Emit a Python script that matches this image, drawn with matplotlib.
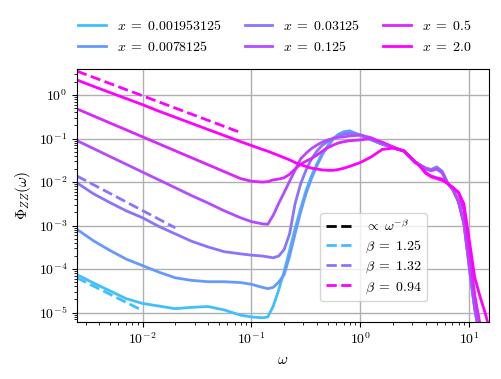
import numpy as np
import matplotlib
matplotlib.use("Agg")
import matplotlib.pyplot as plt
from matplotlib.ticker import FuncFormatter

plt.rcParams['mathtext.fontset'] = 'cm'
plt.rcParams['font.family'] = 'serif'
plt.rcParams['font.serif'] = ['DejaVu Serif']

# values (log10 of omega and of Phi_ZZ)
log_omega = [-2.6, -2.45, -2.3, -2.15, -2.0, -1.85, -1.7, -1.55, -1.4, -1.25,
             -1.1, -1.0, -0.9, -0.85, -0.8, -0.75, -0.7, -0.65, -0.6, -0.55,
             -0.5, -0.45, -0.4, -0.35, -0.3, -0.25, -0.2, -0.15, -0.1, 0.0,
             0.1, 0.2, 0.3, 0.4, 0.5, 0.55, 0.6, 0.65, 0.7, 0.75,
             0.8, 0.85, 0.9, 0.95, 1.0, 1.05, 1.1, 1.15, 1.18]

log_phi_1 = [-4.13, -4.32, -4.50, -4.68, -4.79, -4.85, -4.91, -4.88, -4.86, -4.94,
             -5.06, -5.10, -5.12, -5.10, -4.85, -4.48, -4.05, -3.57, -3.07, -2.62,
             -2.20, -1.86, -1.58, -1.34, -1.17, -1.01, -0.91, -0.85, -0.82, -0.93,
             -1.03, -1.13, -1.21, -1.29, -1.55, -1.61, -1.68, -1.72, -1.66, -1.75,
             -2.02, -2.17, -2.45, -2.95, -4.00, -4.95, -5.6, -6.2, -6.5]
log_phi_2 = [-3.09, -3.35, -3.57, -3.77, -3.92, -4.07, -4.20, -4.26, -4.29, -4.29,
             -4.31, -4.35, -4.42, -4.45, -4.42, -4.30, -4.13, -3.70, -3.19, -2.70,
             -2.27, -1.92, -1.63, -1.37, -1.18, -1.01, -0.90, -0.84, -0.83, -0.92,
             -1.03, -1.13, -1.21, -1.29, -1.54, -1.61, -1.68, -1.71, -1.65, -1.76,
             -2.02, -2.17, -2.44, -2.93, -3.95, -4.92, -5.6, -6.2, -6.5]
log_phi_3 = [-2.02, -2.27, -2.47, -2.66, -2.82, -3.02, -3.19, -3.36, -3.49, -3.60,
             -3.65, -3.68, -3.70, -3.72, -3.74, -3.70, -3.55, -3.19, -2.50, -2.05,
             -1.73, -1.47, -1.29, -1.15, -1.07, -0.99, -0.94, -0.90, -0.88, -0.91,
             -1.02, -1.13, -1.21, -1.29, -1.53, -1.61, -1.68, -1.72, -1.67, -1.76,
             -2.02, -2.18, -2.45, -2.95, -3.95, -4.92, -5.6, -6.2, -6.5]
log_phi_4 = [-1.05, -1.23, -1.41, -1.59, -1.77, -1.95, -2.13, -2.31, -2.48, -2.66,
             -2.82, -2.91, -2.96, -2.97, -2.76, -2.49, -2.24, -1.98, -1.73, -1.47,
             -1.34, -1.23, -1.15, -1.08, -1.03, -1.00, -0.97, -0.96, -0.94, -0.92,
             -0.98, -1.10, -1.20, -1.29, -1.55, -1.62, -1.70, -1.74, -1.70, -1.79,
             -2.03, -2.18, -2.45, -2.95, -3.90, -4.88, -5.6, -6.2, -6.5]
log_phi_5 = [-0.32, -0.48, -0.64, -0.80, -0.96, -1.12, -1.28, -1.44, -1.60, -1.76,
             -1.92, -1.98, -2.00, -1.99, -1.95, -1.93, -1.90, -1.82, -1.70, -1.59,
             -1.52, -1.46, -1.38, -1.29, -1.21, -1.15, -1.10, -1.07, -1.05, -1.03,
             -1.00, -1.08, -1.19, -1.29, -1.53, -1.63, -1.78, -1.86, -1.90, -1.93,
             -2.03, -2.13, -2.25, -2.65, -3.60, -4.60, -5.3, -5.9, -6.2]
log_phi_6 = [0.345, 0.20, 0.06, -0.08, -0.22, -0.37, -0.51, -0.65, -0.79, -0.93,
             -1.07, -1.16, -1.25, -1.29, -1.34, -1.39, -1.44, -1.49, -1.55, -1.60,
             -1.64, -1.68, -1.70, -1.72, -1.73, -1.73, -1.71, -1.68, -1.64, -1.55,
             -1.42, -1.25, -1.22, -1.28, -1.53, -1.65, -1.80, -1.88, -1.92, -1.96,
             -2.03, -2.13, -2.23, -2.50, -3.35, -4.20, -4.65, -5.05, -5.35]

x_labels = ["0.001953125", "0.0078125", "0.03125", "0.125", "0.5", "2.0"]

# power law fits  Phi = amp * (omega/omega0)^-beta
fit_beta = [1.25, 1.32, 0.94]
fit_amp = [6.3e-5, 1.38e-2, 3.55]
fit_end = [0.01, 0.02, 0.08]
fit_color_idx = [0, 2, 5]
omega0 = 0.0025

log_phis = [log_phi_1, log_phi_2, log_phi_3, log_phi_4, log_phi_5, log_phi_6]
colors = plt.cm.cool(np.linspace(0.25, 1.0, 6))

fig = plt.figure(figsize=(5.01, 3.79), dpi=100)
ax = fig.add_axes([0.154, 0.150, 0.822, 0.668])

omega = 10 ** np.array(log_omega)
curve_handles = []
for i in range(6):
    h, = ax.loglog(omega, 10 ** np.array(log_phis[i]), c=colors[i], lw=2,
                   label=r'$x\;=\;%s$' % x_labels[i])
    curve_handles.append(h)

fit_handles = [ax.plot([], [], 'k--', lw=2, label=r'$\propto\;\omega^{-\beta}$')[0]]
for b, a, e, k in zip(fit_beta, fit_amp, fit_end, fit_color_idx):
    w = np.array([omega0, e])
    h, = ax.loglog(w, a * (w / omega0) ** (-b), '--', c=colors[k], lw=2,
                   label=r'$\beta\;=\;%s$' % b)
    fit_handles.append(h)

ax.set_xlim(10 ** -2.6, 10 ** 1.18)
ax.set_ylim(10 ** -5.22, 10 ** 0.6)
ax.grid(True, which='major', color='#b0b0b0', lw=1)

fmt = FuncFormatter(lambda v, p: r'$10^{%d}$' % round(np.log10(v)))
ax.xaxis.set_major_formatter(fmt)
ax.yaxis.set_major_formatter(fmt)
ax.tick_params(labelsize=10)

ax.set_xlabel(r'$\omega$', fontsize=11)
ax.set_ylabel(r'$\Phi_{ZZ}(\omega)$', fontsize=11)

leg1 = ax.legend(handles=curve_handles, ncol=3, loc='lower center',
                 bbox_to_anchor=(0.48, 1.01), frameon=False, fontsize=10,
                 columnspacing=1.6)
ax.add_artist(leg1)
ax.legend(handles=fit_handles, loc='center', bbox_to_anchor=(0.72, 0.257),
          fontsize=10, labelspacing=0.3)

fig.savefig("out.png", dpi=100)
